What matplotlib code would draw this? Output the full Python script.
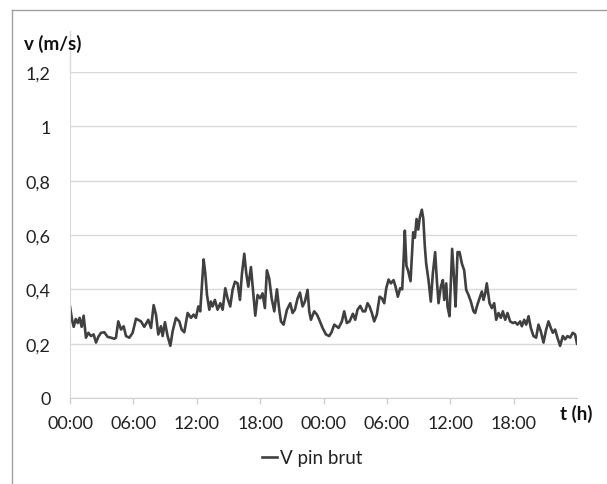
import matplotlib
matplotlib.use("Agg")
import matplotlib.pyplot as plt
from matplotlib.lines import Line2D

plt.rcParams['font.family'] = ['Lato', 'DejaVu Sans']

# time in hours since first 00:00, wind speed in m/s
hours = [
    0.00, 0.19, 0.35, 0.54, 0.73, 0.91, 1.10, 1.29, 1.51, 1.74, 1.99, 2.24, 2.46, 2.68, 2.93,
    3.25, 3.56, 3.88, 4.20, 4.35, 4.57, 4.83, 5.08, 5.30, 5.62, 5.93, 6.25, 6.72, 7.03, 7.41,
    7.67, 7.92, 8.14, 8.36, 8.61, 8.77, 8.99, 9.24, 9.50, 9.72, 10.03, 10.35, 10.57, 10.82,
    11.14, 11.45, 11.70, 11.92, 12.15, 12.33, 12.65, 12.81, 12.97, 13.19, 13.34, 13.50, 13.72,
    13.97, 14.23, 14.45, 14.70, 14.92, 15.17, 15.39, 15.62, 15.87, 16.09, 16.28, 16.50, 16.69,
    16.88, 17.13, 17.32, 17.54, 17.76, 18.01, 18.23, 18.45, 18.64, 18.86, 19.09, 19.34, 19.59,
    19.81, 19.97, 20.22, 20.54, 20.85, 21.07, 21.29, 21.55, 21.77, 22.02, 22.24, 22.49, 22.65,
    22.81, 23.12, 23.38, 23.60, 23.91, 24.23, 24.54, 24.76, 25.02, 25.43, 25.74, 25.96, 26.21,
    26.47, 26.78, 27.00, 27.22, 27.48, 27.73, 27.95, 28.17, 28.36, 28.58, 28.80, 29.05, 29.31,
    29.53, 29.75, 29.94, 30.16, 30.38, 30.63, 30.82, 31.04, 31.26, 31.45, 31.58, 31.70, 31.85,
    32.00, 32.24, 32.49, 32.65, 32.81, 32.97, 33.12, 33.31, 33.45, 33.59, 33.72, 33.94, 34.16,
    34.35, 34.57, 34.73, 34.89, 35.11, 35.30, 35.43, 35.62, 35.74, 35.93, 36.06, 36.18, 36.37,
    36.50, 36.69, 36.88, 37.10, 37.32, 37.51, 37.73, 37.95, 38.20, 38.36, 38.52, 38.77, 38.99,
    39.15, 39.31, 39.46, 39.72, 39.94, 40.16, 40.35, 40.57, 40.79, 40.98, 41.20, 41.42, 41.67,
    41.92, 42.15, 42.37, 42.62, 42.78, 43.00, 43.19, 43.41, 43.63, 43.88, 44.13, 44.35, 44.57,
    44.83, 45.08, 45.30, 45.52, 45.71, 45.93, 46.15, 46.40, 46.66, 46.88, 47.10, 47.35, 47.60,
    47.82, 48.00,
]
v_pin_brut = [
    0.337, 0.288, 0.262, 0.291, 0.276, 0.295, 0.262, 0.303, 0.222, 0.240, 0.228, 0.234, 0.204,
    0.225, 0.240, 0.242, 0.225, 0.222, 0.218, 0.222, 0.282, 0.252, 0.264, 0.228, 0.222, 0.240,
    0.292, 0.282, 0.262, 0.288, 0.258, 0.342, 0.307, 0.234, 0.264, 0.228, 0.279, 0.228, 0.192,
    0.246, 0.295, 0.282, 0.252, 0.242, 0.313, 0.295, 0.307, 0.295, 0.337, 0.319, 0.510, 0.458,
    0.379, 0.325, 0.355, 0.337, 0.361, 0.325, 0.349, 0.325, 0.404, 0.367, 0.337, 0.398, 0.428,
    0.422, 0.361, 0.458, 0.531, 0.458, 0.410, 0.482, 0.398, 0.303, 0.379, 0.367, 0.385, 0.331,
    0.470, 0.440, 0.367, 0.319, 0.400, 0.325, 0.282, 0.270, 0.325, 0.349, 0.313, 0.325, 0.367,
    0.388, 0.337, 0.355, 0.398, 0.319, 0.288, 0.319, 0.307, 0.288, 0.258, 0.234, 0.228, 0.242,
    0.270, 0.258, 0.282, 0.319, 0.276, 0.282, 0.310, 0.288, 0.325, 0.339, 0.319, 0.319, 0.349,
    0.337, 0.313, 0.282, 0.307, 0.373, 0.367, 0.349, 0.404, 0.436, 0.422, 0.434, 0.410, 0.373,
    0.404, 0.400, 0.507, 0.616, 0.487, 0.470, 0.430, 0.610, 0.590, 0.659, 0.620, 0.665, 0.693,
    0.660, 0.560, 0.495, 0.434, 0.355, 0.458, 0.537, 0.434, 0.349, 0.410, 0.434, 0.361, 0.422,
    0.337, 0.301, 0.434, 0.549, 0.434, 0.337, 0.537, 0.537, 0.495, 0.470, 0.398, 0.379, 0.355,
    0.319, 0.313, 0.337, 0.367, 0.392, 0.361, 0.385, 0.422, 0.349, 0.331, 0.349, 0.288, 0.313,
    0.295, 0.319, 0.288, 0.313, 0.282, 0.276, 0.279, 0.270, 0.282, 0.264, 0.288, 0.270, 0.301,
    0.258, 0.228, 0.222, 0.270, 0.246, 0.204, 0.252, 0.282, 0.258, 0.240, 0.252, 0.222, 0.192,
    0.228, 0.216, 0.228, 0.222, 0.240, 0.234, 0.200,
]

tick_hours = [0, 6, 12, 18, 24, 30, 36, 42]
tick_labels = ["00:00", "06:00", "12:00", "18:00", "00:00", "06:00", "12:00", "18:00"]
y_ticks = [0, 0.2, 0.4, 0.6, 0.8, 1.0, 1.2]
y_labels = ["0", "0,2", "0,4", "0,6", "0,8", "1", "1,2"]

W, H = 607, 485
fig = plt.figure(figsize=(W / 100, H / 100), dpi=100)
ax = fig.add_axes([70 / W, 1 - 399 / H, (577 - 70) / W, (399 - 73) / H])

ax.plot(hours, v_pin_brut, color="#404040", lw=1.9, label="V pin brut")

ax.set_xlim(0, 48)
ax.set_ylim(0, 1.2)
ax.set_yticks(y_ticks)
ax.set_yticklabels(y_labels)
ax.set_xticks(tick_hours)
ax.set_xticklabels(tick_labels)
ax.grid(axis="y", color="#D9D9D9", lw=1)
ax.set_axisbelow(True)

for s in ["top", "right"]:
    ax.spines[s].set_visible(False)
ax.spines["left"].set_color("#D9D9D9")
ax.spines["bottom"].set_color("#D0D0D0")
ax.tick_params(axis="y", length=0, pad=14, labelsize=13, labelcolor="#222222")
ax.tick_params(axis="x", length=4, width=1, color="#D0D0D0", pad=8, labelsize=13,
               labelcolor="#222222")

# y axis line runs up behind the unit label, as in the source
ax.add_line(Line2D([0, 0], [1, (399 - 32) / (399 - 73)], transform=ax.transAxes,
                   color="#D9D9D9", lw=1, clip_on=False))

fig.text(24 / W, 1 - 44 / H, "v (m/s)", fontsize=13.5, fontweight="bold", va="center",
         ha="left", color="#111111")
fig.text(576 / W, 1 - 414 / H, "t (h)", fontsize=13.5, fontweight="bold", va="center",
         ha="center", color="#111111")

fig.legend(loc="center", bbox_to_anchor=(312 / W, 1 - 459 / H), frameon=False,
           fontsize=13.5, handlelength=0.8, handletextpad=0.15, labelcolor="#222222")

# outer chart border (cropped on right and bottom)
fig.add_artist(Line2D([12 / W, 1], [1 - 10.5 / H, 1 - 10.5 / H], transform=fig.transFigure,
                      color="#A0A0A0", lw=1))
fig.add_artist(Line2D([12 / W, 12 / W], [0, 1 - 10.5 / H], transform=fig.transFigure,
                      color="#A0A0A0", lw=1))

fig.savefig("out.png", dpi=100)
